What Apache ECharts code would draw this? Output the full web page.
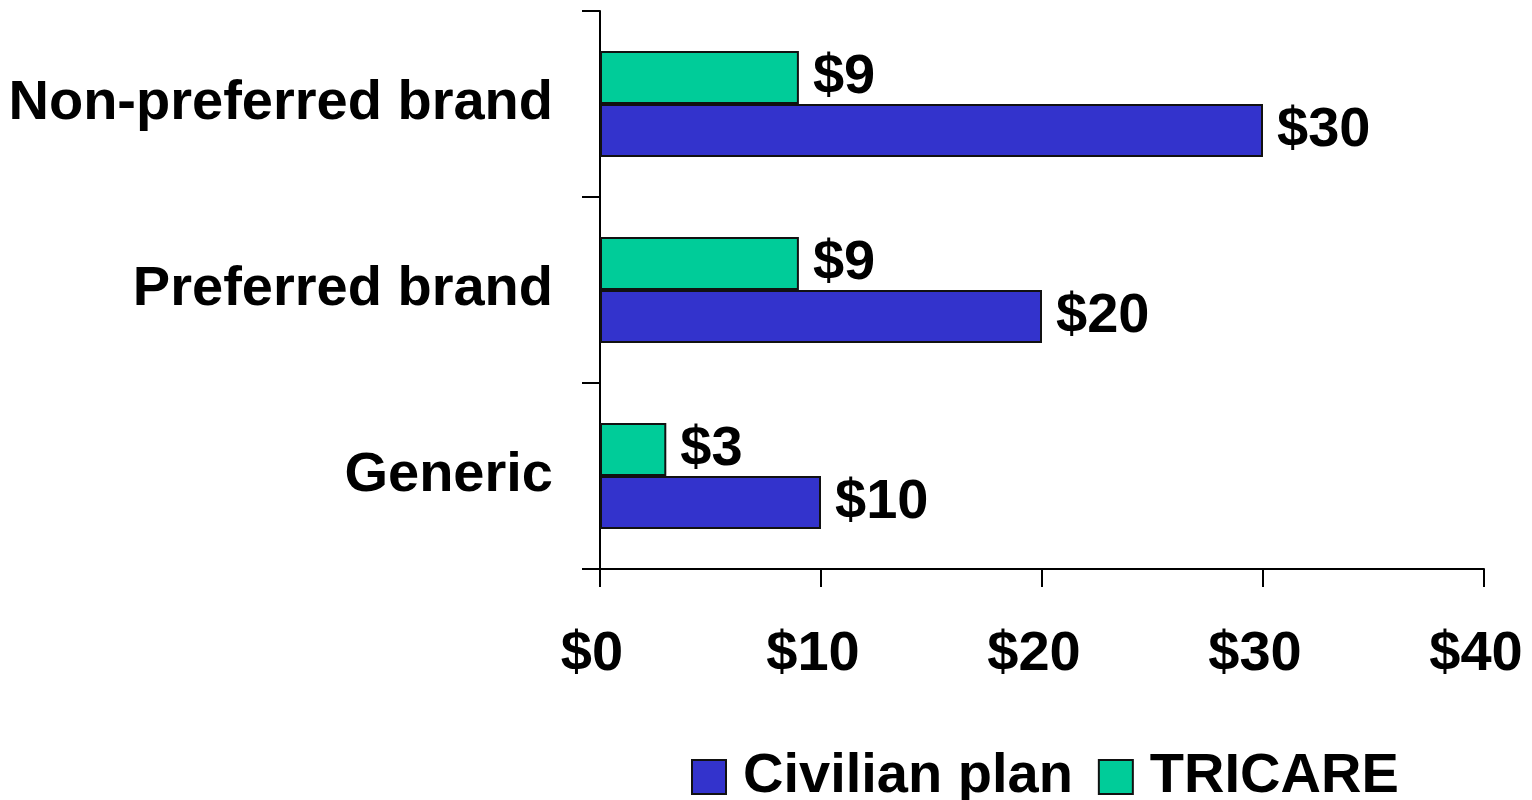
<!DOCTYPE html>
<html>
<head>
<meta charset="utf-8">
<script src="https://cdn.jsdelivr.net/npm/echarts@6/dist/echarts.min.js"></script>
<style>
html,body{margin:0;padding:0;background:#fff;}
#chart{width:1532px;height:800px;}
</style>
</head>
<body>
<div id="chart"></div>
<script>
const categories = ['Generic', 'Preferred brand', 'Non-preferred brand'];
const civilianValues = [10, 20, 30];
const tricareValues = [3, 9, 9];
const seriesNames = ['Civilian plan', 'TRICARE'];
const xTickValues = [0, 10, 20, 30, 40];

const FONT = '"Liberation Sans", Arial, sans-serif';
const FS = 56;
const chart = echarts.init(document.getElementById('chart'));

const labelStyle = {
  show: true,
  position: 'right',
  distance: 14,
  padding: [4, 0, 0, 0],
  formatter: p => '$' + p.value,
  color: '#000',
  fontSize: FS,
  fontWeight: 'bold',
  fontFamily: FONT
};

chart.setOption({
  animation: false,
  backgroundColor: '#fff',
  grid: { left: 600, right: 48, top: 11, bottom: 231, containLabel: false },
  legend: {
    data: seriesNames,
    left: 686,
    top: 744,
    itemWidth: 34,
    itemHeight: 34,
    itemGap: 25,
    icon: 'rect',
    itemStyle: { borderColor: '#111', borderWidth: 2 },
    textStyle: {
      color: '#000', fontSize: FS, fontWeight: 'bold', fontFamily: FONT,
      lineHeight: 56, padding: [0, 0, 0, 12]
    }
  },
  xAxis: {
    type: 'value',
    min: xTickValues[0],
    max: xTickValues[xTickValues.length - 1],
    interval: 10,
    axisLine: { show: true, lineStyle: { color: '#000', width: 2 } },
    axisTick: { show: true, length: 18, lineStyle: { color: '#000', width: 2 } },
    splitLine: { show: false },
    axisLabel: {
      margin: 58,
      padding: [0, 16, 0, 0],
      formatter: v => '$' + v,
      color: '#000', fontSize: FS, fontWeight: 'bold', fontFamily: FONT
    }
  },
  yAxis: {
    type: 'category',
    data: categories,
    axisLine: { show: true, lineStyle: { color: '#000', width: 2 } },
    axisTick: { show: true, length: 18, lineStyle: { color: '#000', width: 2 } },
    axisLabel: {
      margin: 47,
      color: '#000', fontSize: FS, fontWeight: 'bold', fontFamily: FONT
    }
  },
  series: [
    {
      name: seriesNames[1],
      type: 'bar',
      data: tricareValues,
      barGap: '0%',
      barCategoryGap: '43%',
      itemStyle: { color: '#00CC99', borderColor: '#111', borderWidth: 2 },
      label: labelStyle
    },
    {
      name: seriesNames[0],
      type: 'bar',
      data: civilianValues,
      barGap: '0%',
      barCategoryGap: '43%',
      itemStyle: { color: '#3333CC', borderColor: '#111', borderWidth: 2 },
      label: labelStyle
    }
  ]
});
</script>
</body>
</html>
